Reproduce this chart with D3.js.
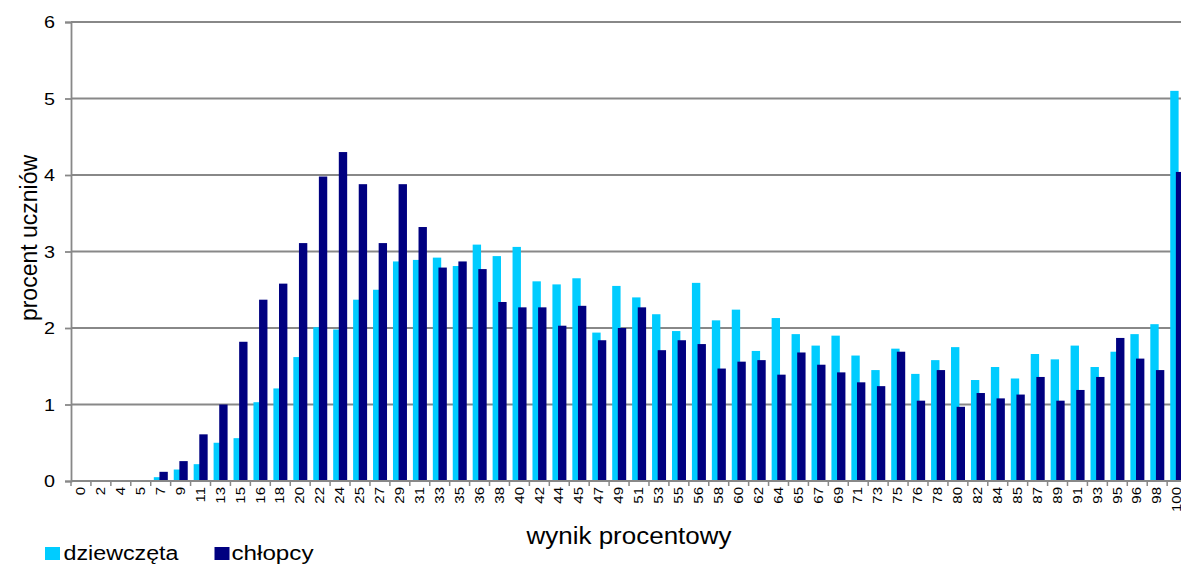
<!DOCTYPE html>
<html><head><meta charset="utf-8">
<script src="https://cdn.jsdelivr.net/npm/d3@7"></script>
<style>body{margin:0;background:#fff;}svg{display:block;font-family:Arial,"Liberation Sans",sans-serif;}</style>
</head><body>
<svg id="c" width="1181" height="565"></svg>
<script>
const categories = ["0","2","4","5","7","9","11","13","15","16","18","20","22","24","25","27","29","31","33","35","36","38","40","42","44","45","47","49","51","53","55","56","58","60","62","64","65","67","69","71","73","75","76","78","80","82","84","85","87","89","91","93","95","96","98","100"];
const girls = [0,0,0,0,0.05,0.15,0.22,0.50,0.56,1.03,1.21,1.62,2.01,1.98,2.37,2.50,2.87,2.89,2.92,2.81,3.09,2.94,3.06,2.61,2.57,2.65,1.94,2.55,2.40,2.18,1.96,2.59,2.10,2.24,1.70,2.13,1.92,1.77,1.90,1.64,1.45,1.73,1.40,1.58,1.75,1.32,1.49,1.34,1.66,1.59,1.77,1.49,1.69,1.92,2.05,5.10];
const boys = [0,0,0,0,0.12,0.26,0.61,1.00,1.82,2.37,2.58,3.11,3.98,4.30,3.88,3.11,3.88,3.32,2.79,2.87,2.77,2.34,2.27,2.27,2.03,2.29,1.84,2.00,2.27,1.71,1.84,1.79,1.47,1.56,1.58,1.39,1.68,1.52,1.42,1.29,1.24,1.69,1.05,1.45,0.97,1.15,1.08,1.13,1.36,1.05,1.19,1.36,1.87,1.60,1.45,4.04];
const yTicks = [0,1,2,3,4,5,6];
const seriesNames = ["dziewczęta","chłopcy"];
const colors = ["#00CCFF","#000080"];
const xTitle = "wynik procentowy";
const yTitle = "procent uczniów";

(function(){
const svg = d3.select("#c");
const mLeft = 71, mTop = 22, mBottom = 481;
const x = d3.scaleBand().domain(categories).range([mLeft, mLeft + 56*19.93]).padding(0);
const y = d3.scaleLinear().domain([0,6]).range([mBottom, mTop]);
const bw = x.bandwidth();
const grid = "#888888";

// gridlines
svg.append("g").selectAll("line").data(yTicks.filter(d=>d>0)).join("line")
  .attr("x1", mLeft).attr("x2", 1181).attr("y1", d=>y(d)).attr("y2", d=>y(d))
  .attr("stroke", grid).attr("stroke-width", 1.8);

// y axis
const yAxis = svg.append("g").attr("transform", `translate(${mLeft},0)`)
  .call(d3.axisLeft(y).tickValues(yTicks).tickSize(6).tickPadding(0).tickFormat(d3.format("d")));
yAxis.select(".domain").attr("stroke", grid).attr("stroke-width", 1.8);
yAxis.selectAll(".tick line").attr("stroke", grid).attr("stroke-width", 1.8);
yAxis.selectAll(".tick text").attr("x", -16).attr("dy", "0.35em").attr("font-size", 17)
  .attr("fill", "#000").attr("font-family", "Arial, 'Liberation Sans', sans-serif")
  .attr("textLength", 11).attr("lengthAdjust", "spacingAndGlyphs");

// bars
const g = svg.append("g");
g.selectAll("rect.g").data(girls).join("rect").attr("class","g")
  .attr("x", (d,i)=>x(categories[i]) + bw*0.155).attr("width", bw*0.42)
  .attr("y", d=>y(d)).attr("height", d=>mBottom - y(d)).attr("fill", colors[0]);
g.selectAll("rect.b").data(boys).join("rect").attr("class","b")
  .attr("x", (d,i)=>x(categories[i]) + bw*0.437).attr("width", bw*0.42)
  .attr("y", d=>y(d)).attr("height", d=>mBottom - y(d)).attr("fill", colors[1]);

// x axis
const xa = svg.append("g");
xa.append("line").attr("x1", mLeft).attr("x2", 1181).attr("y1", mBottom).attr("y2", mBottom)
  .attr("stroke", grid).attr("stroke-width", 1.8);
xa.selectAll("line.t").data(categories).join("line").attr("class","t")
  .attr("x1", d=>x(d)).attr("x2", d=>x(d)).attr("y1", mBottom).attr("y2", mBottom+5)
  .attr("stroke", grid).attr("stroke-width", 1.5);
xa.selectAll("text").data(categories).join("text")
  .attr("transform", d=>`translate(${x(d)+bw/2},${mBottom+6}) rotate(-90) scale(1,0.8)`)
  .attr("text-anchor","end").attr("dy","0.35em").attr("font-size", 15).attr("fill","#000")
  .text(d=>d);

// axis titles
svg.append("text").attr("x", 629).attr("y", 544).attr("text-anchor","middle")
  .attr("font-size", 23).attr("textLength", 205).attr("lengthAdjust","spacingAndGlyphs")
  .text(xTitle);
svg.append("text").attr("transform","translate(37,238) rotate(-90)").attr("text-anchor","middle")
  .attr("font-size", 23).text(yTitle);

// legend
const leg = [{x:45, tx:63.5, tl:115},{x:214.5, tx:231.5, tl:82}];
leg.forEach((l,i)=>{
  svg.append("rect").attr("x", l.x).attr("y", 547).attr("width", 15).attr("height", 13).attr("fill", colors[i]);
  svg.append("text").attr("x", l.tx).attr("y", 559.5).attr("font-size", 20)
    .attr("textLength", l.tl).attr("lengthAdjust","spacingAndGlyphs").text(seriesNames[i]);
});
})();
</script>
</body></html>
